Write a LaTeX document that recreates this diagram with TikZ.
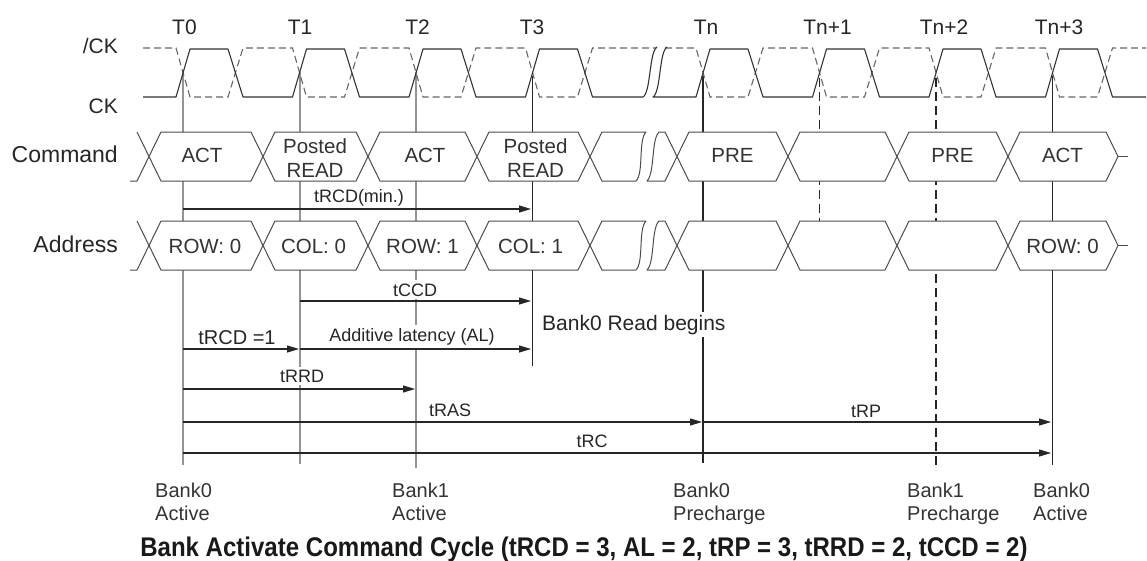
\documentclass[tikz,border=0pt]{standalone}
\usepackage{fontspec}
\setmainfont{Liberation Sans}
\usetikzlibrary{arrows.meta}
\newcommand\myfs[1]{\fontsize{#1}{#1}\selectfont}
\begin{document}
\begin{tikzpicture}[x=1pt,y=-1pt,
  ck/.style={line width=1.1pt, draw=black!80, line join=round},
  nck/.style={line width=1.1pt, draw=black!60, dash pattern=on 7pt off 4pt},
  busline/.style={line width=1pt, draw=black!70, fill=white, line join=round},
  vgray/.style={line width=1.7pt, draw=black!42},
  vdark/.style={line width=1.1pt, draw=black!85},
  vdash/.style={line width=1.1pt, draw=black!85, dash pattern=on 9pt off 5pt},
  tarrow/.style={line width=1.1pt, draw=black!85, -{Triangle[length=12pt,width=7pt]}},
  lbl/.style={font=\myfs{18}, fill=white, inner xsep=2pt, inner ysep=3pt, text=black!85, anchor=base},
  tlab/.style={font=\myfs{21}, text=black!85, anchor=base, inner sep=0pt},
  rowlab/.style={text=black!85, anchor=base east, inner sep=0pt},
  bustxt/.style={font=\myfs{20.5}, text=black!80, anchor=base, inner sep=0pt},
  botlab/.style={font=\myfs{20}, text=black!80, anchor=base west, inner sep=0pt},
]
\useasboundingbox (0,0) rectangle (1147,560);

% ---------- clock labels ----------
\node[tlab] (t0) at (184.5,34) {T0};
\node[tlab] (t1) at (300,34) {T1};
\node[tlab] (t2) at (417.5,34) {T2};
\node[tlab] (t3) at (532,34) {T3};
\node[tlab] (tn) at (706,34) {Tn};
\node[tlab] (tn1) at (827.5,34) {Tn+1};
\node[tlab] (tn2) at (944,34) {Tn+2};
\node[tlab] (tn3) at (1059,34) {Tn+3};

\node[rowlab, font=\myfs{21}] (lnck) at (118,53) {/CK};
\node[rowlab, font=\myfs{21}] (lck) at (118,113) {CK};
\node[rowlab, font=\myfs{23}] (lcmd) at (118,162) {Command};
\node[rowlab, font=\myfs{23}] (laddr) at (118,252) {Address};

% ---------- vertical reference lines ----------
\draw[vgray] (183,72) -- (183,465);
\draw[vgray] (300,72) -- (300,464);
\draw[vgray] (416,72) -- (416,468);
\draw[vdark] (532.5,76) -- (532.5,366);
\draw[vdark] (703,76) -- (703,463);
\draw[vdash] (819.5,78) -- (819.5,221);
\draw[vdash] (936,78) -- (936,470);
\draw[vdark] (1052.5,76) -- (1052.5,465);

% ---------- clocks ----------
\draw[nck] (143,48) foreach \t in {183,299.5,416,532.5} { -- ({\t-7},48) -- ({\t+7},97) -- ({\t+45},97) -- ({\t+60},48) } -- (656,48);
\draw[ck] (143,97) foreach \t in {183,299.5,416,532.5} { -- ({\t-7},97) -- ({\t+7},49) -- ({\t+45},49) -- ({\t+60},97) } -- (643,97)
   .. controls (651,92) and (649,52) .. (657,47);
\draw[nck] (665,48) foreach \t in {703,819.5,936,1052.5} { -- ({\t-7},48) -- ({\t+7},97) -- ({\t+45},97) -- ({\t+60},48) } -- (1146,48);
\draw[ck] (667,47) .. controls (659,52) and (661,92) .. (653,97)
   foreach \t in {703,819.5,936,1052.5} { -- ({\t-7},97) -- ({\t+7},49) -- ({\t+45},49) -- ({\t+60},97) } -- (1146,97);

% ---------- buses ----------
\foreach \top/\bot in {132/181, 221/270} {
  \pgfmathsetmacro\mid{(\top+\bot)/2}
  \draw[busline, fill=none] (137,\top) -- (149,\mid) -- (137,\bot) -- (130,\bot);
  \foreach \a/\b in {149/263, 263/368, 368/477, 477/590, 677/788, 788/897, 897/1008, 1008/1118}
    \draw[busline] (\a,\mid) -- ({\a+12},\top) -- ({\b-12},\top) -- (\b,\mid) -- ({\b-12},\bot) -- ({\a+12},\bot) -- cycle;
  \draw[busline] (590,\mid) -- (602,\top) -- (646,\top) .. controls (638,{\top+8}) and (644,{\bot-8}) .. (636,\bot) -- (602,\bot) -- cycle;
  \draw[busline] (647,\bot) .. controls (655,{\bot-8}) and (651,{\top+8}) .. (659,\top) -- (665,\top) -- (677,\mid) -- (665,\bot) -- cycle;
  \draw[busline] (1118,\mid) -- (1128,\mid);
}

% ---------- bus texts ----------
\node[bustxt] (c1) at (202,162) {ACT};
\node[bustxt] (c2a) at (315,153) {Posted};
\node[bustxt] (c2b) at (315,177) {READ};
\node[bustxt] (c3) at (425,162) {ACT};
\node[bustxt] (c4a) at (535.5,153) {Posted};
\node[bustxt] (c4b) at (535.5,177) {READ};
\node[bustxt] (c5) at (732.5,162) {PRE};
\node[bustxt] (c6) at (952.5,162) {PRE};
\node[bustxt] (c7) at (1062.5,162) {ACT};

\node[bustxt] (a1) at (205,253) {ROW: 0};
\node[bustxt] (a2) at (313.5,253) {COL: 0};
\node[bustxt] (a3) at (422.5,253) {ROW: 1};
\node[bustxt] (a4) at (530.5,253) {COL: 1};
\node[bustxt] (a7) at (1062.5,253) {ROW: 0};

% ---------- timing labels ----------
\node[lbl] (lmin) at (359,202) {tRCD(min.)};
\node[lbl] (lccd) at (415,296) {tCCD};
\node[lbl, font=\myfs{20}] (lrcd1) at (237,344) {tRCD =1};
\node[lbl] (lal) at (412,341) {Additive latency (AL)};
\node[lbl, font=\myfs{21}, anchor=base west, inner xsep=1pt] (lread) at (541,330) {Bank0 Read begins};
\node[lbl] (lrrd) at (302,382) {tRRD};
\node[lbl] (lras) at (450,416) {tRAS};
\node[lbl] (lrp) at (866,417) {tRP};
\node[lbl] (lrc) at (592,447) {tRC};

% ---------- timing arrows ----------
\draw[tarrow] (183,209) -- (531,209);
\draw[tarrow] (300,301) -- (531,301);
\draw[tarrow] (183,349) -- (299,349);
\draw[tarrow] (300,349) -- (531,349);
\draw[tarrow] (183,389) -- (415,389);
\draw[tarrow] (183,422) -- (702,422);
\draw[tarrow] (703,422) -- (1051,422);
\draw[tarrow] (183,453) -- (1051,453);

% ---------- bottom labels ----------
\node[botlab] (b0a) at (155,497) {Bank0};
\node[botlab] (b0b) at (155,520) {Active};
\node[botlab] (b1a) at (392,497) {Bank1};
\node[botlab] (b1b) at (392,520) {Active};
\node[botlab] (b2a) at (673,497) {Bank0};
\node[botlab] (b2b) at (673,520) {Precharge};
\node[botlab] (b3a) at (907,497) {Bank1};
\node[botlab] (b3b) at (907,520) {Precharge};
\node[botlab] (b4a) at (1033,497) {Bank0};
\node[botlab] (b4b) at (1033,520) {Active};

\node[anchor=base, inner sep=0pt, text=black!90] (cap) at (584,556)
  {\scalebox{0.89}[1]{\myfs{27}\bfseries Bank Activate Command Cycle (tRCD = 3, AL = 2, tRP = 3, tRRD = 2, tCCD = 2)}};
\end{tikzpicture}
\end{document}
